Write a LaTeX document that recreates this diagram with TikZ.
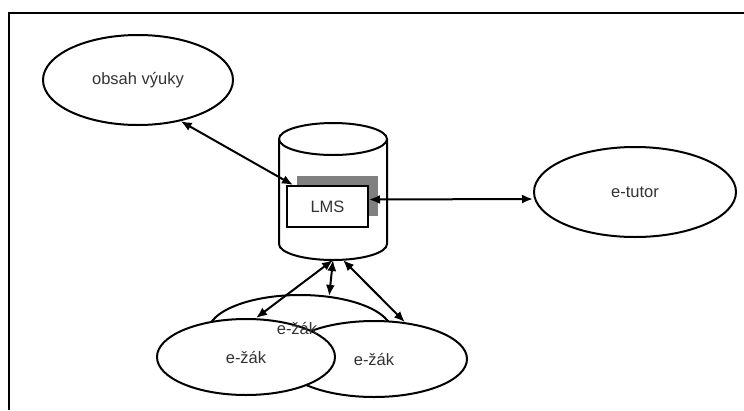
\documentclass[tikz,border=0pt]{standalone}
\usepackage{fontspec}
\setmainfont{Liberation Sans}
\usetikzlibrary{shapes.geometric, arrows.meta}

\begin{document}
\begin{tikzpicture}[x=1pt, y=-1pt, line width=2pt,
	blob/.style={draw, ellipse, fill=white, inner sep=0pt, text=black!80, font=\fontsize{16.5}{18}\selectfont},
	arr/.style={{Latex[length=11pt,width=9pt]}-{Latex[length=11pt,width=9pt]}}]
	\useasboundingbox (0,0) rectangle (744,410);
	% frame
	\draw[line width=2.5pt] (9,410) -- (9,13) -- (744,13);

	\node[blob, minimum width=190pt, minimum height=90pt] (obsah) at (138,80) {obsah výuky};
	\node[blob, minimum width=202pt, minimum height=90pt] (tutor) at (635,192) {e-tutor};

	% database
	\draw[fill=white] (279,139) -- (279,244) arc[start angle=180, end angle=0, x radius=54, y radius=16] -- (387,139);
	\draw (333,139) ellipse [x radius=54, y radius=16];
	\coordinate (dbbot) at (333,260);
	\fill[gray] (297,176) rectangle (378,216);
	\node[draw, fill=white, minimum width=81pt, minimum height=41pt, inner sep=0pt,
		text=black!80, font=\fontsize{16.5}{18}\selectfont] (lms) at (327.5,206.5) {LMS};

	\node[blob, minimum width=184pt, minimum height=74pt] (zak0) at (300,332) {};
	\node[blob, minimum width=186pt, minimum height=76pt] (zak2) at (374,359) {e-žák};
	\node[blob, minimum width=178pt, minimum height=76pt] (zak1) at (246,357) {e-žák};
	\node[text=black!80, font=\fontsize{16.5}{18}\selectfont] (zak0txt) at (297,328) {e-žák};

	\draw[arr] (obsah.-44) -- ([xshift=7pt]lms.north west);
	\draw[arr] ([yshift=7pt]lms.east) -- ([yshift=-7pt]tutor.west);
	\draw[arr] (dbbot) -- ([xshift=10pt]zak1.north);
	\draw[arr] (dbbot) -- (zak0.51);
	\draw[arr] ([xshift=10pt]dbbot) -- (zak2.50);
\end{tikzpicture}
\end{document}
